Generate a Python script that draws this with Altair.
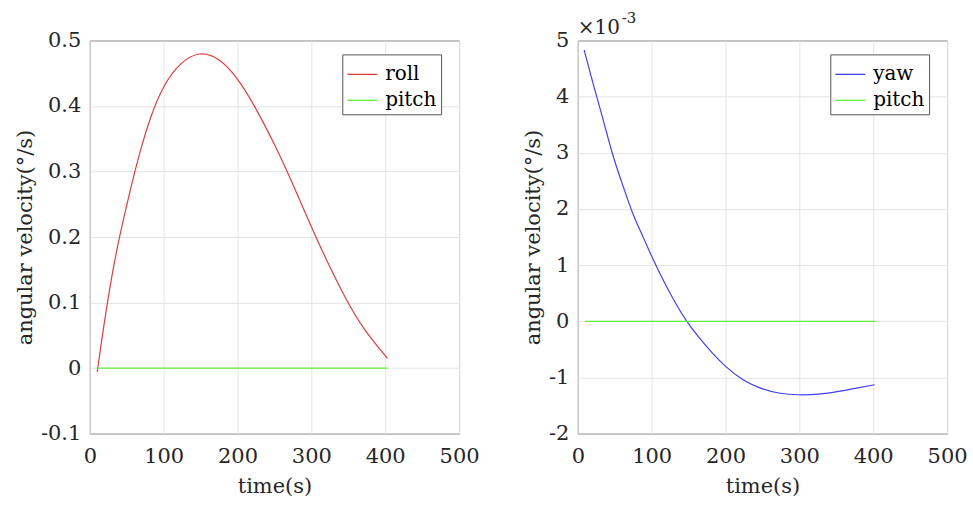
import altair as alt
import pandas as pd

# ---- data ----
roll_t = [10, 18.5, 30, 41, 54.5, 68, 81.5, 100, 122, 148, 175, 200, 221, 251, 273, 300, 327, 350, 372, 403]
roll_v = [-0.006, 0.062, 0.144, 0.205, 0.271, 0.331, 0.382, 0.433, 0.466, 0.484, 0.474, 0.443, 0.405, 0.340,
          0.286, 0.215, 0.149, 0.098, 0.057, 0.015]

pitch_t = [10, 100, 200, 300, 403]
pitch_v = [0.0, 0.0, 0.0, 0.0, 0.0]

# yaw in units of 1e-3 deg/s (as shown on the axis with the x10^-3 multiplier)
yaw_t = [8.6, 21, 35, 48, 62, 75, 89, 100, 116, 131.5, 147, 164, 181.5, 200, 222, 245, 272, 300, 326, 353, 380, 402]
yaw_v = [4.83, 4.21, 3.56, 2.91, 2.38, 1.88, 1.49, 1.15, 0.72, 0.337, 0.0, -0.29, -0.56, -0.81, -1.04,
         -1.19, -1.29, -1.314, -1.302, -1.249, -1.183, -1.13]

x_ticks = [0, 100, 200, 300, 400, 500]
left_y_ticks = [-0.1, 0, 0.1, 0.2, 0.3, 0.4, 0.5]
right_y_ticks = [-2, -1, 0, 1, 2, 3, 4, 5]

FONT = "DejaVu Serif"
TXT = "#262626"
RED = "#e03c3c"
GREEN = "#5ef03a"
BLUE = "#4040ff"
LABEL_SIZE = 21
TITLE_SIZE = 21

left_df = pd.concat([
    pd.DataFrame({"t": roll_t, "v": roll_v, "s": "roll"}),
    pd.DataFrame({"t": pitch_t, "v": pitch_v, "s": "pitch"}),
])
right_df = pd.concat([
    pd.DataFrame({"t": yaw_t, "v": yaw_v, "s": "yaw"}),
    pd.DataFrame({"t": pitch_t, "v": pitch_v, "s": "pitch"}),
])

W, H = 370, 394

def xaxis():
    return alt.X("t:Q", scale=alt.Scale(domain=[0, 500], nice=False),
                 axis=alt.Axis(values=x_ticks, title="time(s)", format="d",
                               labelFlush=False, labelOverlap=False,
                               labelPadding=12, titlePadding=9))

legend_common = dict(title=None, orient="none", legendX=253, legendY=14,
                     symbolType="stroke", symbolSize=900, symbolStrokeWidth=1.3,
                     labelFont=FONT, labelFontSize=20, labelColor="#000000",
                     labelOffset=7, padding=4, rowPadding=0,
                     strokeColor="#555555", fillColor="#ffffff", cornerRadius=0)

label_expr = "datum.value < 0 ? '-' + format(-datum.value, '.1f') : (datum.value == 0 ? '0' : format(datum.value, '.1f'))"
left = alt.Chart(left_df).mark_line(strokeWidth=1.2, interpolate="basis", clip=True).encode(
    x=xaxis(),
    y=alt.Y("v:Q", scale=alt.Scale(domain=[-0.1, 0.5], nice=False),
            axis=alt.Axis(values=left_y_ticks, title="angular velocity(°/s)",
                          labelFlush=False, labelOverlap=False,
                          labelExpr=label_expr, labelPadding=9, titlePadding=5)),
    color=alt.Color("s:N", scale=alt.Scale(domain=["roll", "pitch"], range=[RED, GREEN]),
                    legend=alt.Legend(**legend_common)),
    order=alt.Order("t:Q"),
).properties(width=W, height=H)

label_expr_r = "datum.value < 0 ? '-' + format(-datum.value, 'd') : format(datum.value, 'd')"
right_line = alt.Chart(right_df).mark_line(strokeWidth=1.2, interpolate="basis", clip=True).encode(
    x=xaxis(),
    y=alt.Y("v:Q", scale=alt.Scale(domain=[-2, 5], nice=False),
            axis=alt.Axis(values=right_y_ticks, title="angular velocity(°/s)",
                          labelFlush=False, labelOverlap=False,
                          labelExpr=label_expr_r, labelPadding=9, titlePadding=5)),
    color=alt.Color("s:N", scale=alt.Scale(domain=["yaw", "pitch"], range=[BLUE, GREEN]),
                    legend=alt.Legend(**legend_common)),
    order=alt.Order("t:Q"),
)

exp_base = alt.Chart(pd.DataFrame({"txt": ["×10"]})).mark_text(
    font=FONT, fontSize=20, color=TXT, align="left", baseline="alphabetic"
).encode(text="txt:N", x=alt.value(0), y=alt.value(-6))
exp_sup = alt.Chart(pd.DataFrame({"txt": ["-3"]})).mark_text(
    font=FONT, fontSize=15, color=TXT, align="left", baseline="alphabetic"
).encode(text="txt:N", x=alt.value(44), y=alt.value(-17))

right = alt.layer(right_line, exp_base, exp_sup).properties(width=W, height=H)

chart = alt.hconcat(left, right, spacing=119, bounds="flush").resolve_scale(
    color="independent"
).configure(
    font=FONT,
    padding={"left": 14, "top": 10, "right": 5, "bottom": 5},
).configure_view(
    stroke="#4d4d4d", strokeWidth=1
).configure_axis(
    labelFont=FONT, labelFontSize=LABEL_SIZE, labelColor=TXT,
    titleFont=FONT, titleFontSize=TITLE_SIZE, titleFontWeight="normal", titleColor=TXT,
    ticks=False, domain=False, grid=True, gridColor="#e3e3e3", gridWidth=1,
)

chart.save("out.html", embed_options={"renderer": "svg", "actions": False})
